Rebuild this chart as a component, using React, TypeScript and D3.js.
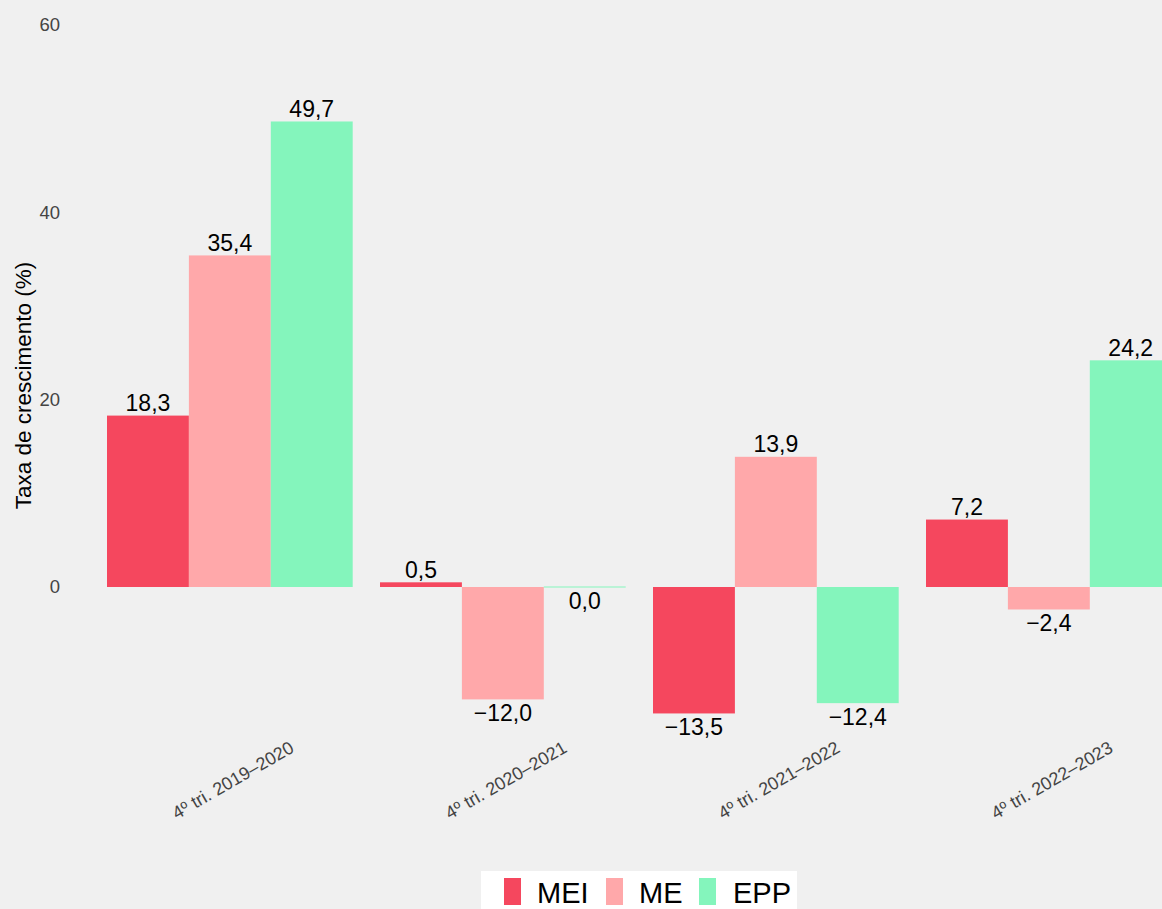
import React from "react";
import * as d3 from "d3";

const categories = ["4º tri. 2019–2020", "4º tri. 2020–2021", "4º tri. 2021–2022", "4º tri. 2022–2023"];
const seriesNames = ["MEI", "ME", "EPP"];
const meiValues = [18.3, 0.5, -13.5, 7.2];
const meValues = [35.4, -12.0, 13.9, -2.4];
const eppValues = [49.7, 0.0, -12.4, 24.2];
const yTicks = [0, 20, 40, 60];
const colors = ["#F5475E", "#FFA8AA", "#84F5BC"];

const W = 1162;
const H = 909;

export default function App() {
  const series = [meiValues, meValues, eppValues];
  const y = d3.scaleLinear().domain([0, 60]).range([587, 25]);
  const x0 = d3.scaleBand<string>().domain(categories).range([93.35, 1185.35]).paddingInner(0.1).paddingOuter(0.05);
  const x1 = d3.scaleBand<string>().domain(seriesNames).range([0, x0.bandwidth()]).padding(0);
  const fmt = (v: number) => {
    const s = Math.abs(v).toFixed(1).replace(".", ",");
    return v < 0 ? "\u2212" + s : s;
  };
  const font = "'Liberation Sans', Arial, sans-serif";
  const legendX = [504, 606, 699];
  const legendTextX = [537, 639, 733];
  return (
    <div style={{ position: "absolute", left: 0, top: 0 }}>
      <svg width={W} height={H} style={{ display: "block", background: "#F0F0F0" }} fontFamily={font}>
        <rect x={0} y={0} width={W} height={H} fill="#F0F0F0" />
        {yTicks.map((t) => (
          <text key={t} x={60} y={y(t)} dy="0.35em" textAnchor="end" fontSize={18.5} fill="#444">
            {t}
          </text>
        ))}
        <text
          transform={`translate(31,385.5) rotate(-90)`}
          textAnchor="middle"
          fontSize={22.5}
          fill="#000"
        >
          Taxa de crescimento (%)
        </text>
        {categories.map((c, ci) =>
          series.map((vals, si) => {
            const v = vals[ci];
            const bx = (x0(c) ?? 0) + (x1(seriesNames[si]) ?? 0);
            const bw = x1.bandwidth();
            const top = Math.min(y(v), y(0));
            const h = Math.max(Math.abs(y(v) - y(0)), 1);
            return (
              <g key={c + si}>
                <rect x={bx} y={v === 0 ? y(0) - 0.5 : top} width={bw} height={h} fill={colors[si]} />
                <text
                  x={bx + bw / 2}
                  y={v > 0 ? y(v) - 4.5 : y(v) + 22}
                  textAnchor="middle"
                  fontSize={23}
                  fill="#000"
                >
                  {fmt(v)}
                </text>
              </g>
            );
          })
        )}
        {categories.map((c) => {
          const cx = (x0(c) ?? 0) + x0.bandwidth() / 2;
          return (
            <text
              key={c}
              transform={`translate(${cx + 3},${780}) rotate(-30)`}
              textAnchor="middle"
              dy="0.35em"
              fontSize={18}
              fill="#444"
            >
              {c}
            </text>
          );
        })}
        <rect x={481} y={871} width={316} height={40} fill="#FFFFFF" />
        {seriesNames.map((n, i) => (
          <g key={n}>
            <rect x={legendX[i]} y={878} width={17} height={27} fill={colors[i]} />
            <text x={legendTextX[i]} y={903} fontSize={29} fill="#000">
              {n}
            </text>
          </g>
        ))}
      </svg>
    </div>
  );
}
